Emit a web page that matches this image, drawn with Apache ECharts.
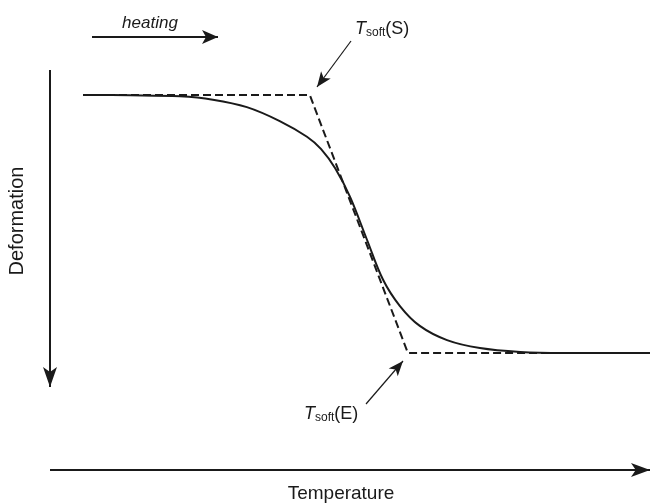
<!DOCTYPE html>
<html>
<head>
<meta charset="utf-8">
<script src="https://cdn.jsdelivr.net/npm/echarts@6/dist/echarts.min.js"></script>
<style>html,body{margin:0;padding:0;background:#fff;}#c{width:650px;height:503px;}</style>
</head>
<body>
<div id="c"></div>
<script>
// Temperature (arbitrary units, 0-100) vs deformation (0 = start, 100 = full)
var curveT = [0, 8.3, 17.1, 22.9, 28.9, 34.7, 39.5, 42.0, 44.5, 47.1, 50.1, 52.9, 55.9, 59.4, 64.2, 70.0, 77.1, 84.7, 100];
var curveD = [0, 0.1, 0.5, 1.8, 4.7, 10.1, 16.2, 21.0, 28.5, 39.5, 56.2, 71.5, 81.8, 89.5, 95.0, 98.1, 99.6, 100, 100];
var tangentT = [0, 40.0, 57.3, 100];
var tangentD = [0, 0, 100, 100];
var labels = { heating: 'heating', xName: 'Temperature', yName: 'Deformation', start: '(S)', end: '(E)' };

var ink = '#1a1a1a';
var font = '"Liberation Sans", Arial, sans-serif';
function pairs(a, b) { return a.map(function (v, i) { return [v, b[i]]; }); }
function arrowHead(tip, from, len, half) {
  var dx = tip[0] - from[0], dy = tip[1] - from[1];
  var L = Math.sqrt(dx * dx + dy * dy); var ux = dx / L, uy = dy / L;
  var bx = tip[0] - ux * len, by = tip[1] - uy * len;
  var nx = tip[0] - ux * len * 0.75, ny = tip[1] - uy * len * 0.75;
  return { type: 'polygon', shape: { points: [tip, [bx - uy * half, by + ux * half], [nx, ny], [bx + uy * half, by - ux * half]] }, style: { fill: ink } };
}
function arrow(from, tip, len, half, w) {
  return [
    { type: 'line', shape: { x1: from[0], y1: from[1], x2: tip[0], y2: tip[1] }, style: { stroke: ink, lineWidth: w } },
    arrowHead(tip, from, len, half)
  ];
}
var chart = echarts.init(document.getElementById('c'));
var g = [];
g = g.concat(arrow([92, 37], [218, 37], 16, 7, 2));
g = g.concat(arrow([50, 70], [50, 387], 20, 7, 2));
g = g.concat(arrow([50, 470], [650, 470], 19, 7, 2));
g = g.concat(arrow([351, 41], [317, 87], 15, 6, 1.2));
g = g.concat(arrow([366, 404], [403, 361], 15, 6, 1.2));
g.push({ type: 'text', x: 150, y: 23, style: { text: labels.heating, font: 'italic 17px ' + font, fill: ink, align: 'center', verticalAlign: 'middle' } });
g.push({ type: 'text', x: 341, y: 494, style: { text: labels.xName, font: '19px ' + font, fill: ink, align: 'center', verticalAlign: 'middle' } });
g.push({ type: 'text', x: 17, y: 221, rotation: Math.PI / 2, style: { text: labels.yName, font: '20px ' + font, fill: ink, align: 'center', verticalAlign: 'middle' } });
function tsoft(x, y, tail) {
  return { type: 'text', x: x, y: y, style: {
    text: '{t|T}{s|soft}{p|' + tail + '}', align: 'left', verticalAlign: 'middle',
    rich: {
      t: { font: 'italic 18px ' + font, fill: ink },
      s: { font: '12px ' + font, fill: ink, padding: [8, 0, 0, 0] },
      p: { font: '18px ' + font, fill: ink }
    } } };
}
g.push(tsoft(355, 29, labels.start));
g.push(tsoft(304, 414, labels.end));

chart.setOption({
  animation: false,
  backgroundColor: '#fff',
  grid: { left: 83, right: 0, top: 95, bottom: 150 },
  xAxis: { type: 'value', min: 0, max: 100, show: false },
  yAxis: { type: 'value', min: 0, max: 100, inverse: true, show: false },
  series: [
    { type: 'line', data: pairs(tangentT, tangentD), symbol: 'none', clip: false,
      lineStyle: { color: ink, width: 2, type: [8, 4] } },
    { type: 'line', data: pairs(curveT, curveD), symbol: 'none', clip: false, smooth: 0.35,
      lineStyle: { color: ink, width: 2 } }
  ],
  graphic: g
});
</script>
</body>
</html>
